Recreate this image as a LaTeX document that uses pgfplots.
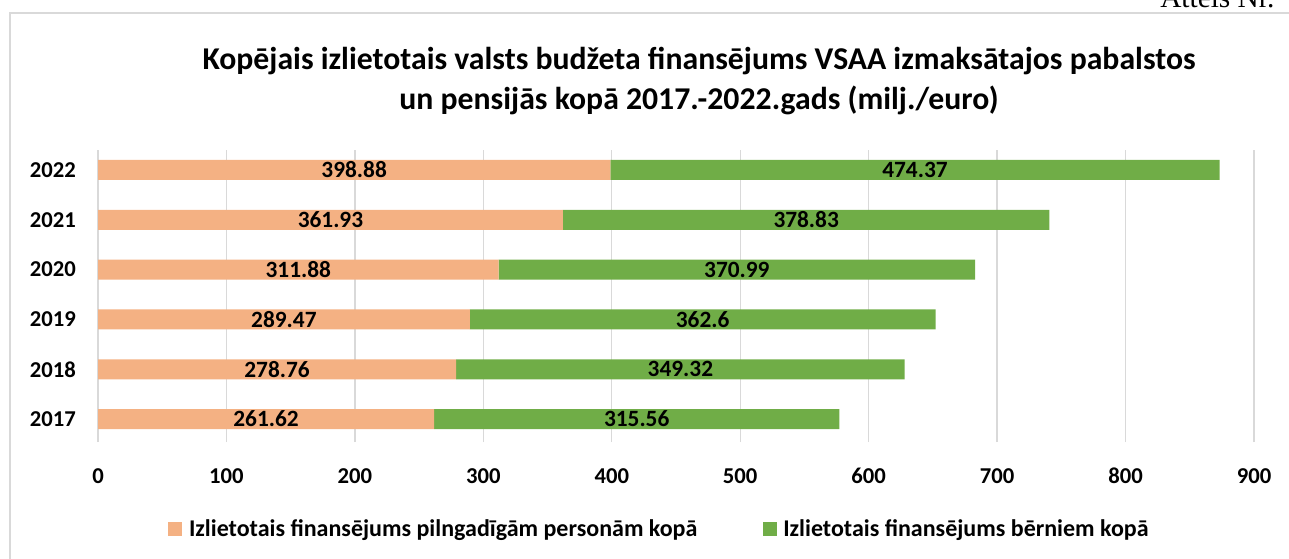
\documentclass[border=0pt]{standalone}
\usepackage{fontspec}
\setmainfont{Carlito}
\newfontfamily\timesfont{Liberation Serif}
\usepackage{pgfplots}
\pgfplotsset{compat=1.18}

\definecolor{peach}{HTML}{F4B183}
\definecolor{grass}{HTML}{70AD47}
\definecolor{framegray}{HTML}{D9D9D9}

% 1 px of the reference = 0.75pt
\pgfplotsset{
  base/.style={
    at={(73.5pt,-331.5pt)}, anchor=south west,
    scale only axis, width=867pt, height=219pt,
    xmin=0, xmax=900, ymin=-0.46, ymax=5.4,
  },
  sq legend/.style={
    legend image code/.code={\fill[##1] (0pt,-5.25pt) rectangle (10.5pt,5.25pt);}
  },
}

\begin{document}
\begin{tikzpicture}
\useasboundingbox (0,0) rectangle (966.75pt,-418.5pt);
\clip (0,0) rectangle (966.75pt,-418.5pt);

% chart frame
\draw[framegray, line width=1.5pt] (7.5pt,-430pt) -- (7.5pt,-9.75pt) -- (980pt,-9.75pt);
\node[anchor=base west, inner sep=0pt, font=\timesfont\fontsize{22}{24}\selectfont]
  at (870pt,-5.25pt) {Attēls Nr.};

% title
\node[anchor=base, inner sep=0pt, font=\bfseries\fontsize{23.8}{28}\selectfont]
  at (524.25pt,-51.75pt) {Kopējais izlietotais valsts budžeta finansējums VSAA izmaksātajos pabalstos};
\node[anchor=base, inner sep=0pt, font=\bfseries\fontsize{23.8}{28}\selectfont]
  at (524.25pt,-81.75pt) {un pensijās kopā 2017.-2022.gads (milj./euro)};

\begin{axis}[
  base,
  xbar stacked, bar width=15pt,
  axis line style={draw=none}, tick style={draw=none},
  xmajorgrids, grid style={framegray, line width=1pt},
  xtick={0,100,...,900},
  ytick={0,1,2,3,4,5},
  yticklabels={2017,2018,2019,2020,2021,2022},
  ticklabel style={font=\bfseries\fontsize{17}{20}\selectfont, inner sep=0pt},
  xticklabel shift=19.5pt, yticklabel shift=16.5pt,
  /pgf/number format/assume math mode=true,
  legend columns=2, legend cell align=left,
  legend style={draw=none, fill=none, at={(0.486,-0.298)}, anchor=center,
    font=\bfseries\fontsize{18}{21}\selectfont,
    /tikz/every odd column/.append style={column sep=3pt},
    /tikz/every even column/.append style={column sep=47pt}},
]
\addplot[fill=peach, draw=none, sq legend] coordinates {
  (261.62,0) (278.76,1) (289.47,2) (311.88,3) (361.93,4) (398.88,5)};
\addlegendentry{Izlietotais finansējums pilngadīgām personām kopā}
\addplot[fill=grass, draw=none, sq legend] coordinates {
  (315.56,0) (349.32,1) (362.6,2) (370.99,3) (378.83,4) (474.37,5)};
\addlegendentry{Izlietotais finansējums bērniem kopā}
\end{axis}

% value labels, centred in each segment
\begin{axis}[base, hide axis]
\addplot[draw=none, mark=none, nodes near coords, point meta=explicit symbolic,
  every node near coord/.append style={anchor=center, inner sep=0pt,
    font=\bfseries\fontsize{17.5}{20}\selectfont}]
  coordinates {
  (130.81,0) [261.62] (139.38,1) [278.76] (144.735,2) [289.47]
  (155.94,3) [311.88] (180.965,4) [361.93] (199.44,5) [398.88]
  (419.40,0) [315.56] (453.42,1) [349.32] (470.77,2) [362.6]
  (497.375,3) [370.99] (551.345,4) [378.83] (636.065,5) [474.37]};
\end{axis}
\end{tikzpicture}
\end{document}
